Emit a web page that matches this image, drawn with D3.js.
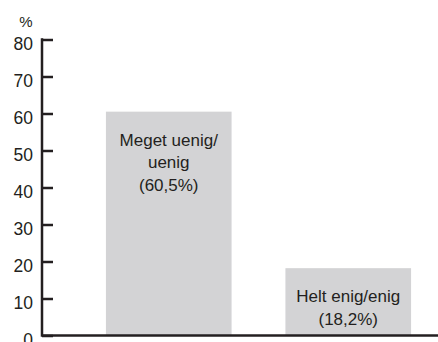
<!DOCTYPE html>
<html>
<head>
<meta charset="utf-8">
<script src="https://cdn.jsdelivr.net/npm/d3@7"></script>
<style>
  html, body { margin: 0; padding: 0; background: #fff; }
  svg { display: block; }
  text { font-family: "Liberation Sans", Arial, sans-serif; fill: #231f20; }
</style>
</head>
<body>
<svg id="chart" width="438" height="342"></svg>
<script>
// Share of respondents per answer group (%)
const categories = ["Meget uenig/uenig", "Helt enig/enig"];
const values = [60.5, 18.2];
const barLabels = [
  ["Meget uenig/", "uenig", "(60,5%)"],
  ["Helt enig/enig", "(18,2%)"]
];
const yTicks = [0, 10, 20, 30, 40, 50, 60, 70, 80];
const yUnit = "%";

const svg = d3.select("#chart");
const W = 438, H = 342;
const axisX = 42, baseY = 335.5, topY = 39.5;
const ink = "#231f20";

const y = d3.scaleLinear().domain([0, 80]).range([baseY, topY]);
const x = d3.scaleBand()
  .domain(categories)
  .range([79, 438])
  .paddingInner(0.3)
  .paddingOuter(0.15);

// Bars
svg.append("g").selectAll("rect")
  .data(categories)
  .join("rect")
  .attr("x", d => x(d))
  .attr("width", x.bandwidth())
  .attr("y", (d, i) => y(values[i]))
  .attr("height", (d, i) => y(0) - y(values[i]))
  .attr("fill", "#d3d3d5");

// Labels inside the bars
const lab = svg.append("g").attr("font-size", 17).attr("text-anchor", "middle");
categories.forEach((c, i) => {
  const cx = x(c) + x.bandwidth() / 2;
  const t = lab.append("text")
    .attr("x", cx)
    .attr("y", y(values[i]) + 34);
  barLabels[i].forEach((line, j) => {
    t.append("tspan")
      .attr("x", cx)
      .attr("dy", j === 0 ? 0 : 22.5)
      .text(line);
  });
});

// Y axis with inward ticks
const yAxis = d3.axisRight(y)
  .tickValues(yTicks)
  .tickSize(11)
  .tickFormat("");
const gy = svg.append("g")
  .attr("transform", `translate(${axisX},0)`)
  .call(yAxis);
gy.select(".domain").remove();
gy.selectAll(".tick line").attr("stroke", ink).attr("stroke-width", 2.5);

svg.append("line")
  .attr("x1", axisX).attr("x2", axisX)
  .attr("y1", y(80) - 1.25).attr("y2", baseY + 1.25)
  .attr("stroke", ink).attr("stroke-width", 2.5);

// Tick labels, set slightly below their ticks
svg.append("g").attr("font-size", 17.5).attr("text-anchor", "end")
  .selectAll("text")
  .data(yTicks)
  .join("text")
  .attr("x", 33)
  .attr("y", d => y(d) + 4.5)
  .attr("dy", "0.36em")
  .text(d => d);

// Baseline
svg.append("line")
  .attr("x1", axisX).attr("x2", W)
  .attr("y1", baseY).attr("y2", baseY)
  .attr("stroke", ink).attr("stroke-width", 2.5);

// Unit label
svg.append("text")
  .attr("x", 26).attr("y", 27)
  .attr("text-anchor", "middle")
  .attr("font-size", 15)
  .text(yUnit);
</script>
</body>
</html>
